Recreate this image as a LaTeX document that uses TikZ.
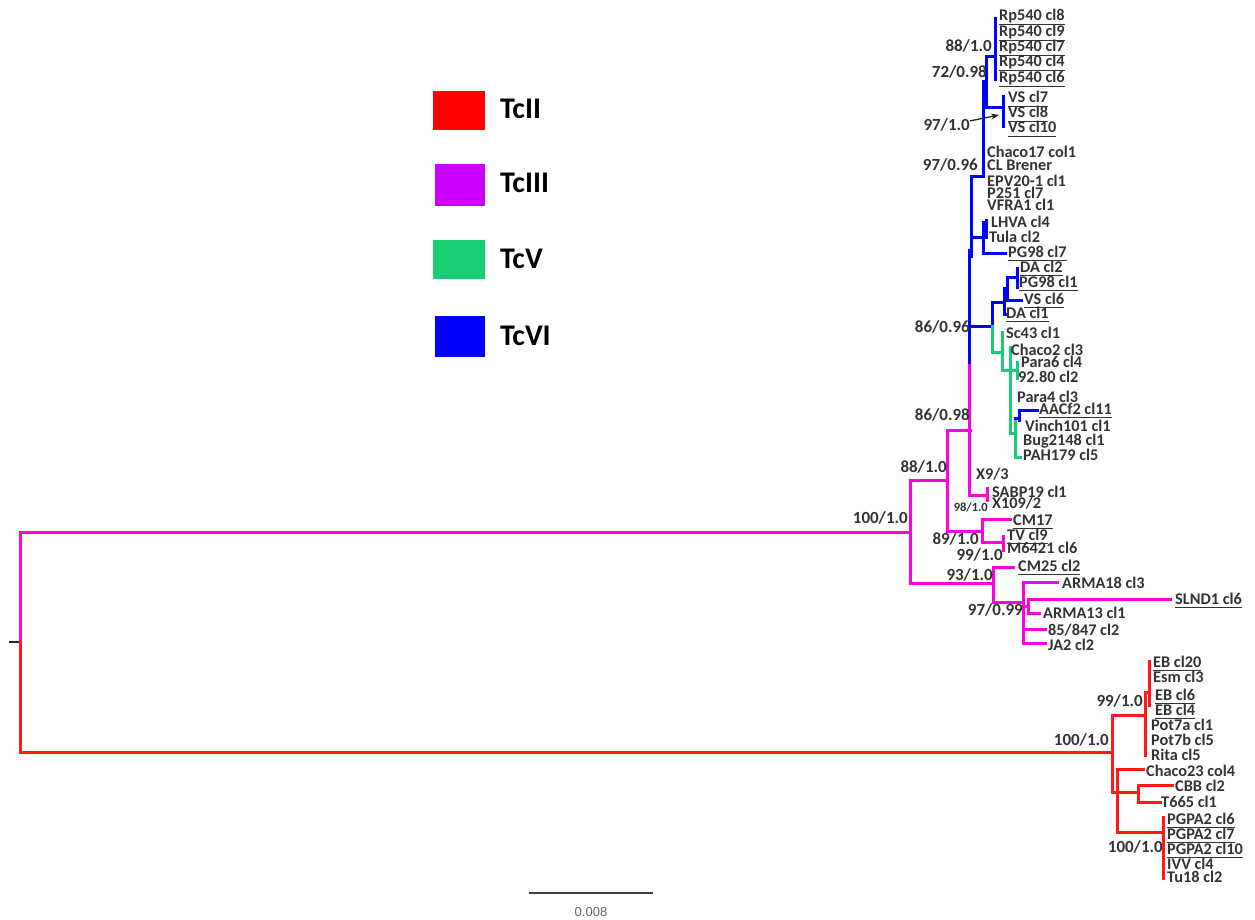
\documentclass[tikz,border=0pt]{standalone}
\usepackage{fontspec}
\setmainfont{Carlito}
\newfontfamily\arialf{Liberation Sans}
\usetikzlibrary{arrows.meta}
\definecolor{tcred}{RGB}{255,0,0}
\definecolor{treered}{RGB}{255,25,25}
\definecolor{tcmag}{RGB}{255,0,225}
\definecolor{tcpurple}{RGB}{204,0,255}
\definecolor{tcgreen}{RGB}{25,205,115}
\definecolor{tcblue}{RGB}{0,0,255}
\newsavebox\ulbox
\newcommand\uln[1]{\sbox\ulbox{#1}\rlap{\rule[-3.8pt]{\wd\ulbox}{1.2pt}}\usebox\ulbox}
\tikzset{
  br/.style={line width=3pt, line join=miter, line cap=rect},
  bl/.style={br, draw=tcblue},
  mg/.style={br, draw=tcmag},
  rd/.style={br, draw=treered},
  gr/.style={br, draw=tcgreen},
  leaf/.style={anchor=base west, inner sep=0pt, yshift=-5pt, font=\fontsize{16.3}{18}\selectfont\bfseries, text=black!80},
  boot/.style={anchor=base east, inner sep=0pt, yshift=-5.5pt, font=\fontsize{17}{19}\selectfont\bfseries, text=black!80},
  smallboot/.style={anchor=base east, inner sep=0pt, yshift=-4pt, font=\fontsize{12.5}{14}\selectfont\bfseries, text=black!80},
  leglab/.style={anchor=base west, inner sep=0pt, yshift=-10pt, font=\fontsize{30}{32}\selectfont\bfseries, text=black},
}
\newcommand\lf[4]{\node[leaf] (#1) at (#2,#3) {#4};}
\newcommand\lfu[4]{\node[leaf] (#1) at (#2,#3) {\uln{#4}};}
\newcommand\bs[4]{\node[boot] (#1) at (#2,#3) {#4};}
\begin{document}
\begin{tikzpicture}[x=1pt,y=-1pt]
\useasboundingbox (0,0) rectangle (1255,920);
\fill[white] (0,0) rectangle (1255,920);

% ---------- legend ----------
\fill[tcred]    (433,91)  rectangle (485,130);
\fill[tcpurple] (435,164) rectangle (485,206);
\fill[tcgreen]  (433,240) rectangle (485,279);
\fill[tcblue]   (435,316) rectangle (485,357);
\node[leglab] (l2) at (500,109) {TcII};
\node[leglab] (l3) at (500,183) {TcIII};
\node[leglab] (l5) at (500,258) {TcV};
\node[leglab] (l6) at (500,335) {TcVI};

% ---------- root ----------
\draw[line width=2.5pt, black!85] (9,642) -- (19,642);
\draw[mg] (20,642) -- (20,532) -- (910,532);
\draw[rd] (20,642) -- (20,752) -- (1112,752);

% ---------- magenta (TcIII) ----------
\draw[mg] (910,583) -- (910,480) -- (947,480);
\draw[mg] (910,583) -- (993,583);
\draw[mg] (970,430) -- (947,430) -- (947,531) -- (982,531);
\draw[mg] (969,362) -- (969,495) -- (987,495);
\draw[mg] (987,488) -- (987,500);
\draw[mg] (1010,519) -- (982,519) -- (982,542) -- (1003,542);
\draw[mg] (1003,536) -- (1003,550);
\draw[mg] (1013,567) -- (993,567) -- (993,602) -- (1023,602);
\draw[mg] (1057,582) -- (1023,582) -- (1023,643) -- (1045,643);
\draw[mg] (1023,629) -- (1045,629);
\draw[mg] (1023,606) -- (1028,606);
\draw[mg] (1170,599) -- (1028,599) -- (1028,613) -- (1039,613);

% ---------- blue (TcVI) ----------
\draw[bl] (995,19) -- (995,80);
\draw[bl] (995,57) -- (986,57) -- (986,108) -- (1003,108);
\draw[bl] (1003,97) -- (1003,127);
\draw[bl] (986,82) -- (983,82) -- (983,177) -- (971,177) -- (971,256);
\draw[bl] (969,250) -- (969,362);
\draw[bl] (971,237) -- (983,237);
\draw[bl] (983,222) -- (983,253) -- (1005,253);
\draw[bl] (986,220) -- (986,237);
\draw[bl] (969,326) -- (992,326) -- (992,302) -- (1004,302);
\draw[bl] (1004,288) -- (1004,314) -- (1006,314);
\draw[bl] (1004,288) -- (1007,288);
\draw[bl] (1017,277) -- (1007,277) -- (1007,300) -- (1021,300);
\draw[bl] (1017,268) -- (1017,287);

% ---------- green (TcV) ----------
\draw[gr] (992,326) -- (992,352) -- (1002,352);
\draw[gr] (1002,332) -- (1002,370) -- (1010,370);
\draw[gr] (1010,347) -- (1010,433) -- (1015,433);
\draw[gr] (1010,370) -- (1017,370);
\draw[gr] (1017,362) -- (1017,378);
\draw[gr] (1015,418) -- (1015,457) -- (1020,457);
\draw[bl] (1015,418) -- (1019,418);
\draw[bl] (1019,420) -- (1019,410) -- (1037,410);

% ---------- red (TcII) ----------
\draw[rd] (1145,715) -- (1112,715) -- (1112,792) -- (1117,792);
\draw[rd] (1143,769) -- (1117,769) -- (1117,832) -- (1163,832);
\draw[rd] (1117,792) -- (1138,792);
\draw[rd] (1172,785) -- (1138,785) -- (1138,802) -- (1160,802);
\draw[rd] (1163,817) -- (1163,878);
\draw[rd] (1145,692) -- (1145,755);
\draw[rd] (1145,692) -- (1149,692);
\draw[rd] (1149,661) -- (1149,705);

% ---------- leaf labels ----------
\lfu{a1}{999}{16}{Rp540 cl8}
\lfu{a2}{999}{32}{Rp540 cl9}
\lfu{a3}{999}{47}{Rp540 cl7}
\lfu{a4}{999}{62}{Rp540 cl4}
\lfu{a5}{999}{78}{Rp540 cl6}
\lfu{a6}{1008}{98}{VS cl7}
\lfu{a7}{1008}{113}{VS cl8}
\lfu{a8}{1008}{128}{VS cl10}
\lf{a9}{987}{153}{Chaco17 col1}
\lf{a10}{987}{166}{CL Brener}
\lf{a11}{987}{182}{EPV20-1 cl1}
\lf{a12}{987}{194}{P251 cl7}
\lf{a13}{987}{206}{VFRA1 cl1}
\lf{a14}{991}{222}{LHVA cl4}
\lf{a15}{989}{237}{Tula cl2}
\lfu{a16}{1008}{252}{PG98 cl7}
\lfu{a17}{1020}{267}{DA cl2}
\lfu{a18}{1019}{282}{PG98 cl1}
\lfu{a19}{1024}{299}{VS cl6}
\lfu{a20}{1006}{313}{DA cl1}
\lf{a21}{1006}{333}{Sc43 cl1}
\lf{a22}{1011}{350}{Chaco2 cl3}
\lf{a23}{1021}{362}{Para6 cl4}
\lf{a24}{1018}{377}{92.80 cl2}
\lf{a25}{1017}{397}{Para4 cl3}
\lfu{a26}{1039}{409}{AACf2 cl11}
\lf{a27}{1025}{426}{Vinch101 cl1}
\lf{a28}{1023}{440}{Bug2148 cl1}
\lf{a29}{1023}{455}{PAH179 cl5}
\lf{a30}{976}{474}{X9/3}
\lf{a31}{992}{492}{SABP19 cl1}
\lf{a32}{992}{503}{X109/2}
\lfu{a33}{1013}{520}{CM17}
\lfu{a34}{1007}{535}{TV cl9}
\lf{a35}{1007}{548}{M6421 cl6}
\lfu{a36}{1018}{566}{CM25 cl2}
\lf{a37}{1062}{583}{ARMA18 cl3}
\lfu{a38}{1175}{599}{SLND1 cl6}
\lf{a39}{1043}{613}{ARMA13 cl1}
\lf{a40}{1048}{630}{85/847 cl2}
\lf{a41}{1048}{645}{JA2 cl2}
\lfu{a42}{1153}{662}{EB cl20}
\lf{a43}{1153}{677}{Esm cl3}
\lfu{a44}{1155}{695}{EB cl6}
\lfu{a45}{1155}{710}{EB cl4}
\lf{a46}{1151}{725}{Pot7a cl1}
\lf{a47}{1151}{740}{Pot7b cl5}
\lf{a48}{1151}{755}{Rita cl5}
\lf{a49}{1146}{771}{Chaco23 col4}
\lf{a50}{1175}{786}{CBB cl2}
\lf{a51}{1161}{802}{T665 cl1}
\lfu{a52}{1167}{819}{PGPA2 cl6}
\lfu{a53}{1167}{834}{PGPA2 cl7}
\lfu{a54}{1167}{849}{PGPA2 cl10}
\lf{a55}{1167}{864}{IVV cl4}
\lf{a56}{1167}{877}{Tu18 cl2}

% ---------- support values ----------
\bs{b1}{992}{46}{88/1.0}
\bs{b2}{987}{72}{72/0.98}
\bs{b3}{970}{125}{97/1.0}
\bs{b4}{978}{165}{97/0.96}
\bs{b5}{970}{327}{86/0.96}
\bs{b6}{970}{415}{86/0.98}
\bs{b7}{947}{467}{88/1.0}
\bs{b8}{908}{518}{100/1.0}
\node[smallboot] (b9) at (988,507) {98/1.0};
\bs{b10}{979}{539}{89/1.0}
\bs{b11}{1003}{555}{99/1.0}
\bs{b12}{993}{575}{93/1.0}
\bs{b13}{1023}{610}{97/0.99}
\bs{b14}{1143}{701}{99/1.0}
\bs{b15}{1109}{740}{100/1.0}
\bs{b16}{1163}{847}{100/1.0}
\coordinate (vsnode) at (999,115);
\draw[black!85, line width=1.3pt, -{Stealth[length=8pt,width=6pt]}] (b3.east) ++(0,-4) -- (vsnode);

% ---------- scale bar ----------
\draw[black!75, line width=1.5pt] (529,893) -- (653,893);
\node[font=\arialf\fontsize{13}{15}\selectfont, text=black!60, inner sep=0pt] (sc) at (591,912) {0.008};
\end{tikzpicture}
\end{document}
